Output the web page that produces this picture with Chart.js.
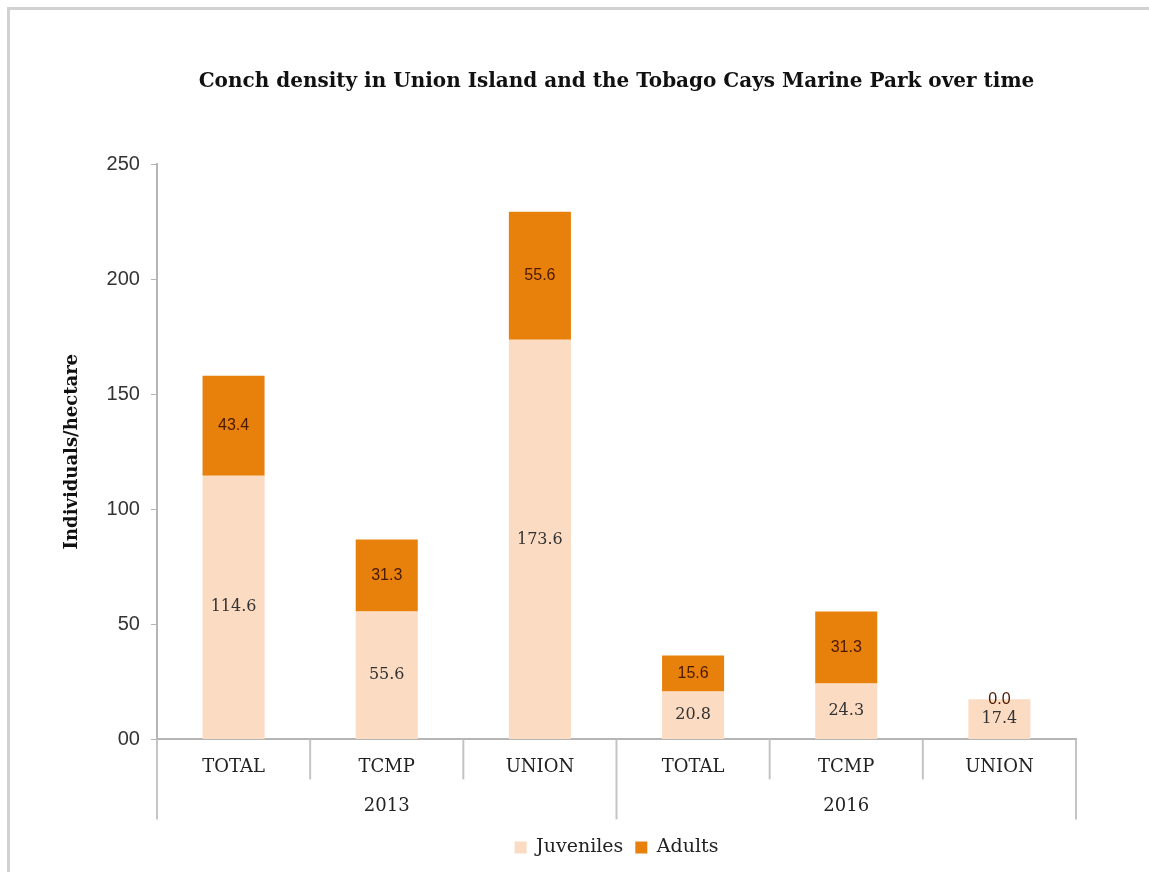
<!DOCTYPE html>
<html>
<script src="https://cdn.jsdelivr.net/npm/chart.js@4.4.1/dist/chart.umd.min.js"></script>
<body style="margin:0;background:#fff">

<div style="position:absolute;left:7px;top:7px;width:1200px;height:900px;border-left:3px solid #d2d2d2;border-top:3px solid #d2d2d2"></div>
<canvas id="conchChart" width="1149" height="872" style="position:absolute;left:0;top:0"></canvas>

<script>

    // sites surveyed each year, and the two survey years
    let sites = ["TOTAL", "TCMP", "UNION", "TOTAL", "TCMP", "UNION"];
    let years = ["2013", "2016"];

    // individuals per hectare
    let juveniles = [114.6, 55.6, 173.6, 20.8, 24.3, 17.4];
    let adults = [43.4, 31.3, 55.6, 15.6, 31.3, 0.0];

    let yTicks = [0, 50, 100, 150, 200, 250];

    let serif = "'DejaVu Serif', serif";
    let sans = "'Liberation Sans', Arial, sans-serif";
    let lineGrey = "#c4c4c4";

    // writes each segment's value in the middle of the segment
    const segmentLabels = {
        id: "segmentLabels",
        afterDatasetsDraw(chart) {
            const ctx = chart.ctx;
            ctx.save();
            ctx.textAlign = "center";
            ctx.textBaseline = "middle";
            chart.data.datasets.forEach((ds, i) => {
                const meta = chart.getDatasetMeta(i);
                meta.data.forEach((bar, j) => {
                    const p = bar.getProps(["x", "y", "base"], true);
                    if (i == 0) {
                        ctx.font = "16px " + serif;
                        ctx.fillStyle = "#333";
                    } else {
                        ctx.font = "16px " + sans;
                        ctx.fillStyle = "#4a1800";
                    }
                    ctx.fillText(ds.data[j].toFixed(1), p.x, (p.y + p.base) / 2);
                });
            });
            ctx.restore();
        }
    };

    // second row under the x axis: separators between sites and the year of each group
    const yearRow = {
        id: "yearRow",
        afterDraw(chart) {
            const ctx = chart.ctx;
            const x = chart.scales.x;
            const bottom = chart.chartArea.bottom;
            const perYear = sites.length / years.length;
            ctx.save();
            ctx.strokeStyle = lineGrey;
            ctx.lineWidth = 2;
            for (let i = 0; i <= sites.length; i++) {
                const px = x.getPixelForValue(i - 0.5);
                const len = i % perYear == 0 ? 80 : 40;
                ctx.beginPath();
                ctx.moveTo(px, bottom);
                ctx.lineTo(px, bottom + len);
                ctx.stroke();
            }
            ctx.font = "18px " + serif;
            ctx.fillStyle = "#222";
            ctx.textAlign = "center";
            ctx.textBaseline = "middle";
            years.forEach((yr, k) => {
                const a = x.getPixelForValue(k * perYear - 0.5);
                const b = x.getPixelForValue((k + 1) * perYear - 0.5);
                ctx.fillText(yr, (a + b) / 2, bottom + 67);
            });
            ctx.restore();
        }
    };

    new Chart("conchChart", {
        type: "bar",
        data: {
            labels: sites,
            datasets: [{
                label: "Juveniles",
                data: juveniles,
                backgroundColor: "#fbdbc2"
            }, {
                label: "Adults",
                data: adults,
                backgroundColor: "#e8800c"
            }]
        },
        options: {
            responsive: false,
            animation: false,
            categoryPercentage: 1,
            barPercentage: 0.405,
            layout: {padding: {left: 58, right: 73, top: 0, bottom: 5}},
            plugins: {
                title: {
                    display: true,
                    fullSize: false,
                    text: "Conch density in Union Island and the Tobago Cays Marine Park over time",
                    color: "#111",
                    font: {family: serif, size: 20, weight: "bold"},
                    padding: {top: 70, bottom: 70}
                },
                legend: {
                    position: "bottom",
                    fullSize: false,
                    labels: {
                        boxWidth: 12,
                        boxHeight: 12,
                        color: "#222",
                        font: {family: serif, size: 19},
                        padding: 12
                    }
                },
                tooltip: {enabled: false}
            },
            scales: {
                x: {
                    stacked: true,
                    border: {color: "#b5b5b5", width: 2},
                    grid: {drawOnChartArea: false, drawTicks: false},
                    ticks: {color: "#222", font: {family: serif, size: 18}, padding: 17},
                    afterFit: axis => { axis.height += 31; }
                },
                y: {
                    stacked: true,
                    min: 0,
                    max: 250,
                    afterBuildTicks: axis => { axis.ticks = yTicks.map(v => ({value: v})); },
                    border: {color: "#b5b5b5", width: 2},
                    grid: {drawOnChartArea: false, tickLength: 6, color: "#b5b5b5"},
                    ticks: {
                        color: "#333",
                        font: {family: sans, size: 20},
                        padding: 11,
                        callback: v => v == 0 ? "00" : v
                    },
                    title: {
                        display: true,
                        text: "Individuals/hectare",
                        color: "#111",
                        font: {family: serif, size: 18, weight: "bold"},
                        padding: {bottom: 12}
                    }
                }
            }
        },
        plugins: [segmentLabels, yearRow]
    });

</script>
</body>
</html>
